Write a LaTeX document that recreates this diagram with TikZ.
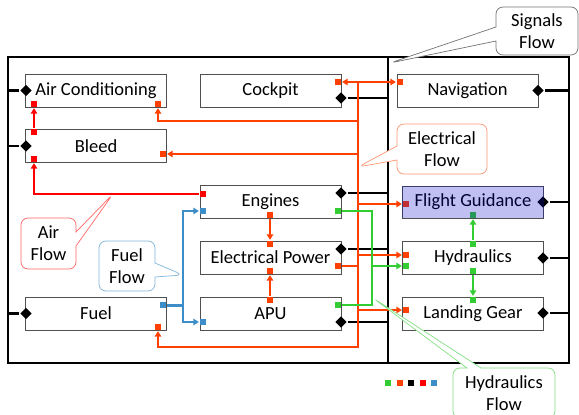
\documentclass[tikz,border=0pt]{standalone}
\usepackage{fontspec}
\setmainfont{Carlito}
\usetikzlibrary{arrows.meta,shapes.geometric,shapes.callouts}

\definecolor{airred}{RGB}{255,0,0}
\definecolor{elecred}{RGB}{255,64,0}
\definecolor{hydgreen}{RGB}{51,204,51}
\definecolor{fuelblue}{RGB}{60,141,200}
\definecolor{boxgray}{RGB}{80,80,80}

\begin{document}
\begin{tikzpicture}[x=1pt, y=-1pt, line width=2.3pt, font=\fontsize{18.5}{22}\selectfont,
  sys/.style={draw=boxgray, line width=0.8pt, fill=white, inner sep=0pt,
    minimum width=141pt, minimum height=33pt},
  port/.style={fill=#1, minimum size=6pt, inner sep=0pt},
  sig/.style={diamond, fill=black, minimum size=12pt, inner sep=0pt},
  flow/.style={-{Triangle[length=5.5pt,width=6.5pt]}},
  tag/.style={rectangle callout, rounded corners=7pt, draw=#1, line width=0.7pt,
    fill=white, align=center, inner sep=2pt, callout pointer width=14pt}]
  \useasboundingbox (0,0) rectangle (579,415);

  % Frame: aircraft (left) and avionics (right)
  \coordinate (fl) at (8,57);
  \coordinate (dv) at (388,57);
  \coordinate (fr) at (569,363);
  \draw[line width=2.5pt] (fl) rectangle (fr);
  \draw[line width=2.5pt] (dv) -- (dv |- fr);

  % Systems
  \node[sys] (ac)    at (96,90.5)    {Air Conditioning};
  \node[sys] (bleed) at (96,146)     {Bleed};
  \node[sys] (fuel)  at (96,313.5)   {Fuel};
  \node[sys] (ck)    at (270.5,90.5) {Cockpit};
  \node[sys] (eng)   at (270.5,201.5){Engines};
  \node[sys] (ep)    at (270.5,257.5){Electrical Power};
  \node[sys] (apu)   at (270.5,313.5){APU};
  \node[sys] (nav)   at (467.5,90.5) {Navigation};
  \node[sys, minimum height=32pt] (fg) at (473,202) {Flight Guidance};
  \node[sys] (hyd)   at (473,257.5)  {Hydraulics};
  \node[sys] (lg)    at (473,313.5)  {Landing Gear};

  % Ports
  \node[port=airred]   (ac-air)   at (34,104)  {};
  \node[port=elecred]  (ac-pwr)   at (158,104) {};
  \node[port=airred]   (bl-out)   at (34,132)  {};
  \node[port=airred]   (bl-in)    at (34,159)  {};
  \node[port=elecred]  (bl-pwr)   at (163,154) {};
  \node[port=elecred]  (ck-pwr)   at (338,82)  {};
  \node[port=elecred]  (nav-pwr)  at (400,82)  {};
  \node[port=airred]   (eng-air)  at (203,194) {};
  \node[port=fuelblue] (eng-fuel) at (203,211) {};
  \node[port=elecred]  (eng-pwr)  at (270,215) {};
  \node[port=hydgreen] (eng-hyd)  at (338,211) {};
  \node[port=elecred]  (ep-in)    at (270,244) {};
  \node[port=elecred]  (ep-apu)   at (270,271) {};
  \node[port=elecred]  (ep-out)   at (338,266) {};
  \node[port=elecred]  (apu-pwr)  at (270,300) {};
  \node[port=fuelblue] (apu-fuel) at (203,322) {};
  \node[port=hydgreen] (apu-hyd)  at (338,305) {};
  \node[port=fuelblue] (fuel-out) at (163,305) {};
  \node[port=elecred]  (fuel-pwr) at (158,327) {};
  \node[port=elecred]  (fg-pwr)   at (406,204) {};
  \node[port=hydgreen] (fg-hyd)   at (473,215) {};
  \node[port=elecred]  (hyd-pwr)  at (406,255) {};
  \node[port=hydgreen] (hyd-in)   at (406,266) {};
  \node[port=hydgreen] (hyd-up)   at (473,244) {};
  \node[port=hydgreen] (hyd-dn)   at (473,271) {};
  \node[port=elecred]  (lg-pwr)   at (406,310) {};
  \node[port=hydgreen] (lg-hyd)   at (473,300) {};

  % Signal ports, wired to the frame
  \node[sig] (ac-sig)   at (26,90.5)  {};
  \node[sig] (bl-sig)   at (26,146)   {};
  \node[sig] (fuel-sig) at (26,313.5) {};
  \node[sig] (ck-sig)   at (341,98)   {};
  \node[sig] (eng-sig)  at (341,193)  {};
  \node[sig] (ep-sig)   at (341,249)  {};
  \node[sig] (apu-sig)  at (341,322)  {};
  \node[sig] (nav-sig)  at (538,90.5) {};
  \node[sig] (fg-sig)   at (543,202)  {};
  \node[sig] (hyd-sig)  at (543,258)  {};
  \node[sig] (lg-sig)   at (543,313)  {};
  \draw[line width=2.5pt] (ac-sig) -- (ac-sig -| fl);
  \draw[line width=2.5pt] (bl-sig) -- (bl-sig -| fl);
  \draw[line width=2.5pt] (fuel-sig) -- (fuel-sig -| fl);
  \draw[line width=2.5pt] (ck-sig) -- (ck-sig -| dv);
  \draw[line width=2.5pt] (eng-sig) -- (eng-sig -| dv);
  \draw[line width=2.5pt] (ep-sig) -- (ep-sig -| dv);
  \draw[line width=2.5pt] (apu-sig) -- (apu-sig -| dv);
  \draw[line width=2.5pt] (nav-sig) -- (nav-sig -| fr);
  \draw[line width=2.5pt] (fg-sig) -- (fg-sig -| fr);
  \draw[line width=2.5pt] (hyd-sig) -- (hyd-sig -| fr);
  \draw[line width=2.5pt] (lg-sig) -- (lg-sig -| fr);

  % Air flow
  \draw[flow, airred] (bl-out) -- (ac-air);
  \draw[flow, airred] (eng-air) -| (bl-in);

  % Electrical flow: one bus down the middle
  \coordinate (bus) at (358,82);
  \coordinate (bus-end) at (358,347);
  \coordinate (ac-tap) at (358,121);
  \draw[elecred, {Triangle[length=5.5pt,width=6.5pt]}-{Triangle[length=5.5pt,width=6.5pt]}] (ck-pwr) -- (nav-pwr);
  \draw[flow, elecred] (bus) -- (bus-end) -| (fuel-pwr);
  \draw[flow, elecred] (ac-tap) -| (ac-pwr);
  \draw[flow, elecred] (bl-pwr -| bus) -- (bl-pwr);
  \draw[flow, elecred] (fg-pwr -| bus) -- (fg-pwr);
  \draw[flow, elecred] (hyd-pwr -| bus) -- (hyd-pwr);
  \draw[flow, elecred] (lg-pwr -| bus) -- (lg-pwr);
  \draw[elecred] (ep-out) -- (ep-out -| bus);
  \draw[flow, elecred] (eng-pwr) -- (ep-in);
  \draw[flow, elecred] (apu-pwr) -- (ep-apu);

  % Hydraulics flow
  \coordinate (gbus) at (372,266);
  \draw[hydgreen] (eng-hyd) -| (gbus) |- (apu-hyd);
  \draw[flow, hydgreen] (gbus) -- (hyd-in);
  \draw[flow, hydgreen] (hyd-up) -- (fg-hyd);
  \draw[flow, hydgreen] (hyd-dn) -- (lg-hyd);

  % Fuel flow
  \coordinate (bbus) at (183,305);
  \draw[fuelblue, line width=3pt] (fuel-out) -- (bbus);
  \draw[flow, fuelblue] (bbus) |- (eng-fuel);
  \draw[flow, fuelblue] (bbus) |- (apu-fuel);

  % Flight Guidance is highlighted
  \fill[blue!80!black, opacity=0.25] (fg.south west) rectangle (fg.north east);

  % Legend
  \foreach \c [count=\i] in {hydgreen,elecred,black,airred,fuelblue}
    \node[port=\c] (key-\i) at ({377+11.4*\i},383) {};

  % Callouts
  \coordinate (air-tip)  at (113,194);
  \coordinate (fuel-tip) at (183,275);
  \coordinate (pwr-tip)  at (358,167);
  \coordinate (sig-tip)  at (390,63);
  \coordinate (hyd-tip)  at (373,298);
  \node[tag=airred!60, callout absolute pointer={(air-tip)},
    minimum width=55pt, minimum height=51pt] (air-note) at (48.5,243.5) {Air\\Flow};
  \node[tag=fuelblue!65, callout absolute pointer={(fuel-tip)},
    minimum width=56pt, minimum height=50pt] (fuel-note) at (127,266) {Fuel\\Flow};
  \node[tag=elecred!55, callout absolute pointer={(pwr-tip)},
    minimum width=90pt, minimum height=50pt] (pwr-note) at (442,149) {Electrical\\Flow};
  \node[tag=black!55, callout absolute pointer={(sig-tip)},
    minimum width=82pt, minimum height=48pt] (sig-note) at (537,31) {Signals\\Flow};
  \node[tag=hydgreen!60, callout absolute pointer={(hyd-tip)},
    minimum width=102pt, minimum height=50pt] (hyd-note) at (504,393) {Hydraulics\\Flow};
\end{tikzpicture}
\end{document}
